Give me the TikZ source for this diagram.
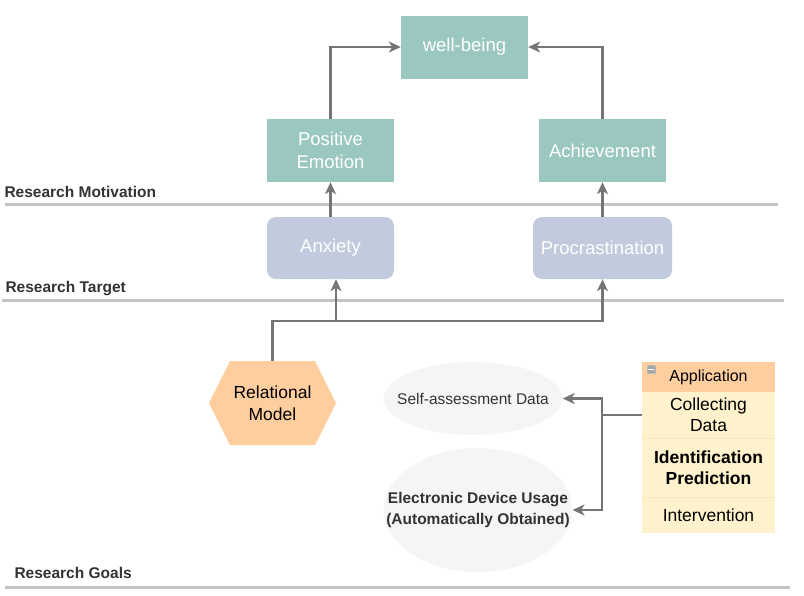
\documentclass[tikz,border=0pt]{standalone}
\usepackage{fontspec}
\setmainfont{Liberation Sans}
\usetikzlibrary{arrows.meta, positioning, shapes.geometric}
\definecolor{motiv}{HTML}{9AC7BF}
\definecolor{target}{HTML}{C1CBDD}
\definecolor{model}{HTML}{FFCE9F}
\definecolor{appbody}{HTML}{FFF2CC}
\definecolor{appline}{HTML}{F8E8C0}
\definecolor{datafill}{HTML}{F5F5F5}
\definecolor{linkgray}{HTML}{757575}
\definecolor{rulegray}{HTML}{C4C4C4}
\definecolor{txt}{HTML}{333333}

\begin{document}
\begin{tikzpicture}[x=1pt, y=-1pt,
  motivbox/.style={fill=motiv, text=white, minimum width=127pt, minimum height=63pt, align=center, font=\fontsize{18.5}{23}\selectfont},
  targetbox/.style={fill=target, text=white, rounded corners=9pt, minimum height=62pt, align=center, font=\fontsize{18.5}{23}\selectfont},
  databox/.style={ellipse, fill=datafill, text=txt, inner ysep=0pt, align=center},
  approw/.style={fill=appbody, minimum width=133pt, align=center, inner sep=0pt, font=\fontsize{17.5}{21}\selectfont},
  section/.style={anchor=west, text=txt, font=\bfseries\fontsize{15.5}{18}\selectfont},
  rule/.style={rulegray, line width=3pt},
  link/.style={linkgray, line width=2.3pt, -{Stealth[length=12pt, width=11pt, inset=3.5pt]}}
]
\useasboundingbox (0,0) rectangle (804,595);

\node[motivbox] (wb) at (464.5,47) {well-being};
\node[motivbox] (pe) at (330.5,150.5) {Positive\\Emotion};
\node[motivbox] (ach) at (602.5,150.5) {Achievement};
\node[targetbox, minimum width=127pt] (anx) at (330.5,248) {Anxiety};
\node[targetbox, minimum width=139pt] (pro) at (602.5,248) {Procrastination};

\node[section] (motivlabel) at (1,192) {Research Motivation};
\node[section] (targetlabel) at (2,289) {Research Target};
\node[section] (goallabel) at (11,573) {Research Goals};
\draw[rule] (5,204) -- (778,204);
\draw[rule] (2,300) -- (784,300);
\draw[rule] (5,587) -- (790,587);

\fill[model] (209,403) -- (230,361) -- (315,361) -- (336,403) -- (315,445) -- (230,445) -- cycle;
\node[minimum width=127pt, minimum height=84pt, align=center, font=\fontsize{17.5}{22}\selectfont] (rm) at (272.5,403) {Relational\\Model};

\node[databox, inner xsep=-12.5pt, minimum height=73pt, font=\fontsize{15.5}{19}\selectfont] (sa) at (473,398.5) {Self-assessment Data};
\node[databox, inner xsep=-25pt, minimum height=124pt, font=\bfseries\fontsize{15.5}{21}\selectfont] (edu) at (478,510) {Electronic Device Usage\\(Automatically Obtained)};

\node[fill=model, minimum width=133pt, minimum height=30pt, font=\fontsize{16}{18}\selectfont] (app) at (708.5,377) {Application};
\node[approw, minimum height=46pt] (col) at (708.5,415) {Collecting\\Data};
\node[approw, minimum height=59pt, font=\bfseries\fontsize{17.5}{21}\selectfont] (idp) at (708.5,467.5) {Identification\\Prediction};
\node[approw, minimum height=36pt] (int) at (708.5,515) {Intervention};
\draw[appline, line width=0.5pt] (col.south west) -- (col.south east) (idp.south west) -- (idp.south east);
\node[fill=gray!70, draw=gray!55, minimum size=8pt, inner sep=0pt] (fold) at (651,369) {};
\draw[white, line width=1pt] ([xshift=1.5pt]fold.west) -- ([xshift=-1.5pt]fold.east);

\draw[link] (pe.north) |- (wb.west);
\draw[link] (ach.north) |- (wb.east);
\draw[link] (anx.north) -- (pe.south);
\draw[link] (pro.north) -- (ach.south);

\coordinate (split) at (336,321);
\draw[link] (rm.north) |- (split) -- (split |- anx.south);
\draw[link] (split) -| (pro.south);

\coordinate (fork) at (602,415);
\draw[link] (col.west) -- (fork) |- (sa.east);
\draw[link] (fork) |- (edu.east);
\end{tikzpicture}
\end{document}
